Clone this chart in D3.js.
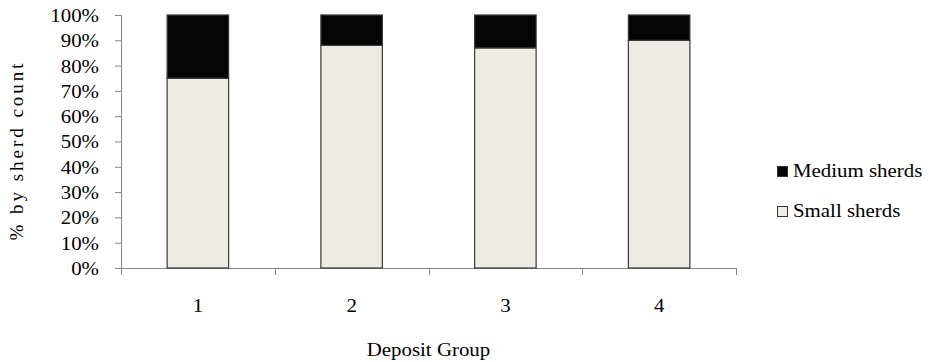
<!DOCTYPE html>
<html>
<head>
<meta charset="utf-8">
<script src="https://cdn.jsdelivr.net/npm/d3@7"></script>
<style>
  html, body { margin: 0; padding: 0; background: #fff; }
  svg { display: block; }
  text { font-family: "Liberation Serif", "Times New Roman", serif; fill: #000; }
</style>
</head>
<body>
<svg id="chart" width="929" height="362"></svg>
<script>
// Deposit groups and share of sherds by size (percent of sherd count)
const groups = ["1", "2", "3", "4"];
const smallSherds = [75, 88, 87, 90];
const mediumSherds = [25, 12, 13, 10];
const seriesNames = ["Small sherds", "Medium sherds"];
const yTicks = [0, 10, 20, 30, 40, 50, 60, 70, 80, 90, 100];

const svg = d3.select("#chart");
const plotLeft = 121, plotRight = 736, plotTop = 15, plotBottom = 268;
const stretch = 1.16; // horizontal widening of the serif lettering

const x = d3.scaleBand().domain(groups).range([plotLeft, plotRight]).paddingInner(0.6).paddingOuter(0.3);
const y = d3.scaleLinear().domain([0, 100]).range([plotBottom, plotTop]);

const rows = groups.map((g, i) => ({ group: g, small: smallSherds[i], medium: mediumSherds[i] }));
const stack = d3.stack().keys(["small", "medium"])(rows);
const fills = { small: "#EEEBE4", medium: "#050505" };

// Y axis
const yAxis = svg.append("g")
  .attr("transform", `translate(${plotLeft},0)`)
  .call(d3.axisLeft(y).tickValues(yTicks).tickSize(6).tickPadding(16).tickFormat(d => d + "%"));
yAxis.select(".domain").attr("stroke", "#868686");
yAxis.selectAll(".tick line").attr("stroke", "#868686");
yAxis.selectAll(".tick text").attr("font-size", 18).attr("font-family", "Liberation Serif").attr("dy", "0.36em");

// X axis: line with ticks at band boundaries, labels at band centres
const xg = svg.append("g");
xg.append("line").attr("x1", plotLeft).attr("x2", plotRight).attr("y1", plotBottom + 0.5).attr("y2", plotBottom + 0.5)
  .attr("stroke", "#868686");
const bounds = groups.map(g => x(g) - x.step() * x.paddingInner() / 2).concat([plotRight]);
bounds[0] = plotLeft;
xg.selectAll("line.tk").data(bounds).join("line").attr("class", "tk")
  .attr("x1", d => Math.round(d) + 0.5).attr("x2", d => Math.round(d) + 0.5)
  .attr("y1", plotBottom).attr("y2", plotBottom + 7).attr("stroke", "#868686");
xg.selectAll("text").data(groups).join("text")
  .attr("x", d => x(d) + x.bandwidth() / 2).attr("y", plotBottom + 44)
  .attr("text-anchor", "middle").attr("font-size", 18).text(d => d);

// Stacked bars
svg.append("g").selectAll("g").data(stack).join("g")
  .attr("fill", d => fills[d.key])
  .selectAll("rect").data(d => d).join("rect")
  .attr("x", d => x(d.data.group))
  .attr("y", d => y(d[1]))
  .attr("width", x.bandwidth())
  .attr("height", d => y(d[0]) - y(d[1]))
  .attr("stroke", "#3a3a3a").attr("stroke-width", 1.2);

// Axis titles
svg.append("text").attr("x", (plotLeft + plotRight) / 2).attr("y", 356)
  .attr("text-anchor", "middle").attr("font-size", 18).text("Deposit Group");
svg.append("text").attr("class", "ytitle")
  .attr("transform", "translate(23,152) rotate(-90)")
  .attr("text-anchor", "middle").attr("font-size", 19).text("% by sherd count");

// Legend
const legend = svg.append("g");
const legendItems = [
  { name: seriesNames[1], key: "medium", yb: 177 },
  { name: seriesNames[0], key: "small", yb: 217 }
];
legendItems.forEach(it => {
  legend.append("rect").attr("x", 777.5).attr("y", it.yb - 10.5).attr("width", 10).attr("height", 10)
    .attr("fill", fills[it.key]).attr("stroke", "#333").attr("stroke-width", 1);
  legend.append("text").attr("x", 793).attr("y", it.yb).attr("font-size", 18).text(it.name);
});

// Widen lettering horizontally; the vertical title is opened up by letter spacing
svg.selectAll("text").each(function () {
  const t = d3.select(this);
  const w = this.getComputedTextLength();
  if (t.classed("ytitle")) {
    t.attr("textLength", 177).attr("lengthAdjust", "spacing");
  } else {
    t.attr("textLength", w * stretch).attr("lengthAdjust", "spacingAndGlyphs");
  }
});
</script>
</body>
</html>
